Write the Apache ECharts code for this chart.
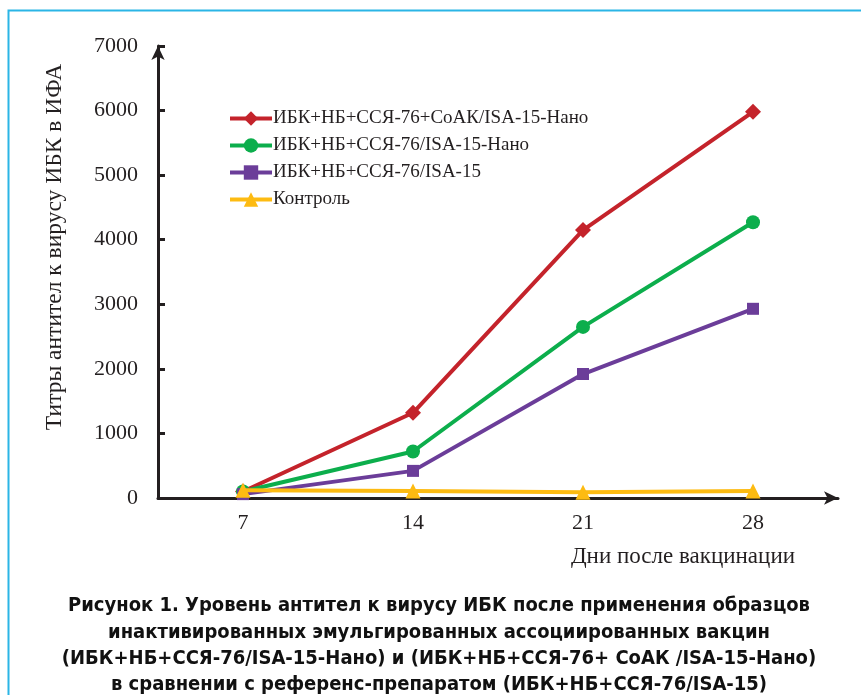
<!DOCTYPE html>
<html>
<head>
<meta charset="utf-8">
<script src="https://cdn.jsdelivr.net/npm/echarts@6/dist/echarts.min.js"></script>
<style>
  html, body { margin: 0; padding: 0; background: #fff; }
  #chart { width: 861px; height: 695px; }
</style>
</head>
<body>
<div id="chart"></div>
<script>
// Days after vaccination
const days = ['7', '14', '21', '28'];

// ELISA antibody titres per vaccine variant
const seriesNames = [
  'ИБК+НБ+ССЯ-76+СоАК/ISA-15-Нано',
  'ИБК+НБ+ССЯ-76/ISA-15-Нано',
  'ИБК+НБ+ССЯ-76/ISA-15',
  'Контроль'
];
const coakNano = [100, 1320, 4150, 5980];
const isaNano = [100, 720, 2650, 4270];
const isaRef = [60, 420, 1920, 2930];
const control = [120, 110, 90, 110];

const yTicks = [0, 1000, 2000, 3000, 4000, 5000, 6000, 7000];
const yTitle = 'Титры антител к вирусу ИБК в ИФА';
const xTitle = 'Дни после вакцинации';

const captionLines = [
  'Рисунок 1. Уровень антител к вирусу ИБК после применения образцов',
  'инактивированных эмульгированных ассоциированных вакцин',
  '(ИБК+НБ+ССЯ-76/ISA-15-Нано) и (ИБК+НБ+ССЯ-76+ СоАК /ISA-15-Нано)',
  'в сравнении с референс-препаратом (ИБК+НБ+ССЯ-76/ISA-15)'
];

const serif = '"Liberation Serif", "DejaVu Serif", serif';
const captionFont = '"Liberation Sans Narrow", "DejaVu Sans Condensed", "Noto Sans", sans-serif';
const ink = '#231f20';

const styles = [
  { color: '#c4232b', symbol: 'diamond', size: 16 },
  { color: '#0cae4c', symbol: 'circle', size: 14 },
  { color: '#6b3d99', symbol: 'rect', size: 12 },
  { color: '#fdbb12', symbol: 'triangle', size: 15 }
];
const values = [coakNano, isaNano, isaRef, control];

const chart = echarts.init(document.getElementById('chart'), null, { renderer: 'canvas' });

const graphics = [
  // frame: top and left rule
  {
    type: 'polyline',
    shape: { points: [[8.5, 695], [8.5, 10.5], [861, 10.5]] },
    style: { stroke: '#2bb5e6', lineWidth: 2, fill: null },
    silent: true
  },
  // vertical axis title
  {
    type: 'text',
    x: 55,
    y: 247,
    rotation: Math.PI / 2,
    style: {
      text: yTitle,
      font: '23.5px ' + serif,
      fill: ink,
      align: 'center',
      verticalAlign: 'middle'
    }
  }
];
captionLines.forEach((t, i) => {
  graphics.push({
    type: 'text',
    x: 439,
    y: 606 + i * 26.3,
    style: {
      text: t,
      font: 'bold 20px ' + captionFont,
      fill: '#111',
      align: 'center',
      verticalAlign: 'middle'
    }
  });
});

chart.setOption({
  animation: false,
  backgroundColor: '#fff',
  grid: { left: 158, right: 23, top: 46, bottom: 197, containLabel: false },
  legend: {
    orient: 'vertical',
    left: 223,
    top: 104,
    itemWidth: 42,
    itemHeight: 18,
    itemGap: 8,
    lineStyle: { width: 4 },
    textStyle: { fontFamily: serif, fontSize: 19, color: ink, padding: [0, 0, 0, -4] },
    data: seriesNames
  },
  xAxis: {
    type: 'category',
    data: days,
    boundaryGap: true,
    name: xTitle,
    nameLocation: 'end',
    nameGap: 0,
    nameTextStyle: {
      fontFamily: serif, fontSize: 23, color: ink,
      align: 'right', verticalAlign: 'top', padding: [47, 43, 0, 0]
    },
    axisLine: {
      lineStyle: { color: ink, width: 3 },
      symbol: ['none', 'arrow'],
      symbolSize: [10, 14],
      symbolOffset: [0, 0]
    },
    axisTick: { show: false },
    axisLabel: { fontFamily: serif, fontSize: 22, color: ink, margin: 14 },
    splitLine: { show: false }
  },
  yAxis: {
    type: 'value',
    min: 0,
    max: 7000,
    interval: 1000,
    axisLine: {
      show: true,
      lineStyle: { color: ink, width: 3 },
      symbol: ['none', 'arrow'],
      symbolSize: [10, 14],
      symbolOffset: [0, 0]
    },
    axisTick: { show: true, inside: true, length: 7, lineStyle: { color: ink, width: 3 } },
    axisLabel: {
      fontFamily: serif, fontSize: 22, color: ink, margin: 20,
      formatter: v => (yTicks.indexOf(v) >= 0 ? String(v) : '')
    },
    splitLine: { show: false }
  },
  series: seriesNames.map((name, i) => ({
    name,
    type: 'line',
    data: values[i],
    symbol: styles[i].symbol,
    symbolSize: styles[i].size,
    showAllSymbol: true,
    lineStyle: { color: styles[i].color, width: 4 },
    itemStyle: { color: styles[i].color },
    z: 2 + i
  })),
  graphic: graphics
});
</script>
</body>
</html>
